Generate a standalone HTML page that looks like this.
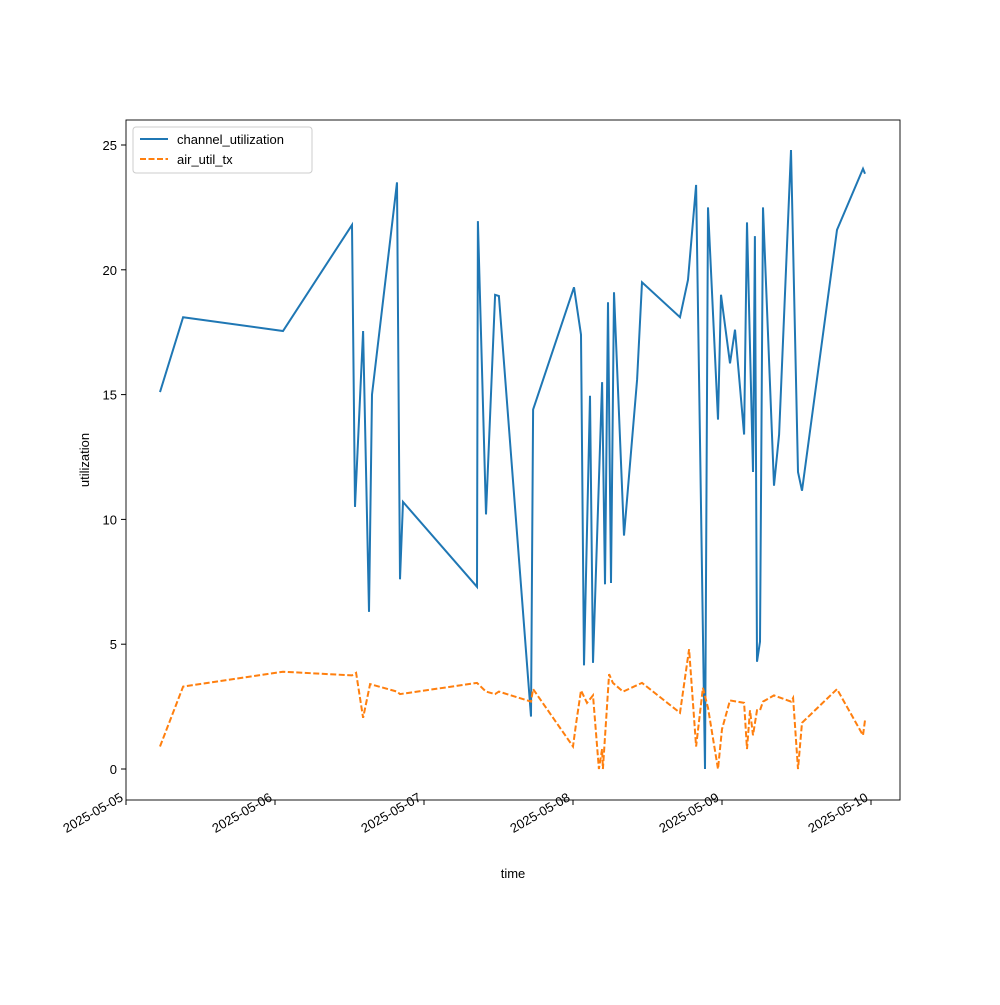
<!DOCTYPE html>
<html><head><meta charset="utf-8"><style>
body{margin:0;background:#fff}
svg text{font-family:"Liberation Sans",sans-serif;font-size:13px;fill:#000}
</style></head><body>
<svg id="chart" width="1000" height="1000">
<rect x="0" y="0" width="1000" height="1000" fill="#fff"/>
<g id="marks"></g>
<rect x="126" y="120" width="774" height="680" fill="none" stroke="#000" stroke-width="0.9"/>
<g id="axes"></g>
<text x="513" y="878" text-anchor="middle">time</text>
<text x="89" y="460" text-anchor="middle" transform="rotate(-90 89 460)">utilization</text>
<g>
<rect x="133" y="127" width="179" height="46" rx="3" fill="#fff" stroke="#ccc"/>
<line x1="140" y1="139" x2="168" y2="139" stroke="#1f77b4" stroke-width="2"/>
<text x="177" y="144">channel_utilization</text>
<line x1="140" y1="159" x2="168" y2="159" stroke="#ff7f0e" stroke-width="2" stroke-dasharray="6,2.5"/>
<text x="177" y="164">air_util_tx</text>
</g>
</svg>
<script>
const xTickLabels=["2025-05-05","2025-05-06","2025-05-07","2025-05-08","2025-05-09","2025-05-10"];
const yTicks=[0,5,10,15,20,25];
// time in days since 2025-05-05
const chanTimes=[.228,.383,1.054,1.517,1.537,1.591,1.631,1.651,1.819,1.839,1.859,2.356,2.362,2.416,2.477,2.503,2.718,2.732,3.007,3.054,3.074,3.114,3.134,3.195,3.215,3.235,3.255,3.275,3.342,3.430,3.463,3.718,3.772,3.826,3.886,3.906,3.973,3.993,4.054,4.087,4.148,4.168,4.208,4.221,4.235,4.255,4.275,4.349,4.383,4.463,4.510,4.537,4.772,4.946,4.960];
const chanValues=[15.1,18.1,17.55,21.8,10.5,17.55,6.3,15.0,23.5,7.6,10.7,7.3,21.95,10.2,19.0,18.95,2.1,14.4,19.3,17.4,4.15,14.95,4.25,15.5,7.4,18.7,7.45,19.1,9.35,15.6,19.5,18.1,19.6,23.4,0,22.5,14.0,19.0,16.25,17.6,13.4,21.9,11.9,21.35,4.3,5.1,22.5,11.35,13.4,24.8,11.9,11.15,21.6,24.05,23.85];
const airTimes=[.228,.383,1.054,1.517,1.544,1.591,1.638,1.819,1.839,2.356,2.416,2.477,2.503,2.718,2.732,3.0,3.020,3.054,3.094,3.134,3.174,3.195,3.201,3.242,3.268,3.336,3.463,3.718,3.779,3.826,3.872,3.906,3.973,4.0,4.054,4.148,4.168,4.188,4.208,4.235,4.255,4.275,4.349,4.463,4.477,4.510,4.537,4.772,4.946,4.960];
const airValues=[0.9,3.3,3.9,3.75,3.85,2.05,3.4,3.1,3.0,3.45,3.1,3.0,3.1,2.7,3.2,0.9,1.8,3.15,2.65,2.95,0,0.8,0,3.8,3.45,3.1,3.45,2.25,4.8,0.9,3.25,2.45,0,1.6,2.75,2.65,0.8,2.35,1.35,2.35,2.35,2.7,2.95,2.7,2.85,0,1.85,3.2,1.35,1.95];

const NS="http://www.w3.org/2000/svg";
const xS=d=>126+d*149;
const yS=v=>769-v*24.96;
const marks=document.getElementById('marks'), axes=document.getElementById('axes');
function line(ts,vs,color,dash,name){
  const p=document.createElementNS(NS,'polyline');
  p.setAttribute('points',ts.map((t,i)=>xS(t).toFixed(1)+','+yS(vs[i]).toFixed(1)).join(' '));
  p.setAttribute('fill','none');p.setAttribute('stroke',color);p.setAttribute('stroke-width','2');
  if(dash)p.setAttribute('stroke-dasharray',dash);
  
  
  marks.appendChild(p);
}
line(chanTimes,chanValues,'#1f77b4',null,'channel-utilization-line');
line(airTimes,airValues,'#ff7f0e','6,2.5','air-util-tx-line');
xTickLabels.forEach((lab,i)=>{
  const x=xS(i);
  const t=document.createElementNS(NS,'line');
  t.setAttribute('x1',x);t.setAttribute('x2',x);t.setAttribute('y1',800);t.setAttribute('y2',805);t.setAttribute('stroke','#000');
  
  
  axes.appendChild(t);
  const ax=x-2, ay=800;
  const tx=document.createElementNS(NS,'text');
  tx.setAttribute('x',ax);tx.setAttribute('y',ay);tx.setAttribute('text-anchor','end');
  tx.setAttribute('transform','rotate(-30 '+ax+' '+ay+')');
  tx.textContent=lab;
  
  
  axes.appendChild(tx);
});
yTicks.forEach(v=>{
  const y=yS(v);
  const t=document.createElementNS(NS,'line');
  t.setAttribute('x1',121);t.setAttribute('x2',126);t.setAttribute('y1',y);t.setAttribute('y2',y);t.setAttribute('stroke','#000');
  
  
  axes.appendChild(t);
  const tx=document.createElementNS(NS,'text');
  tx.setAttribute('x',117);tx.setAttribute('y',y+5);tx.setAttribute('text-anchor','end');
  tx.textContent=v;
  
  
  axes.appendChild(tx);
});
</script>
</body></html>
